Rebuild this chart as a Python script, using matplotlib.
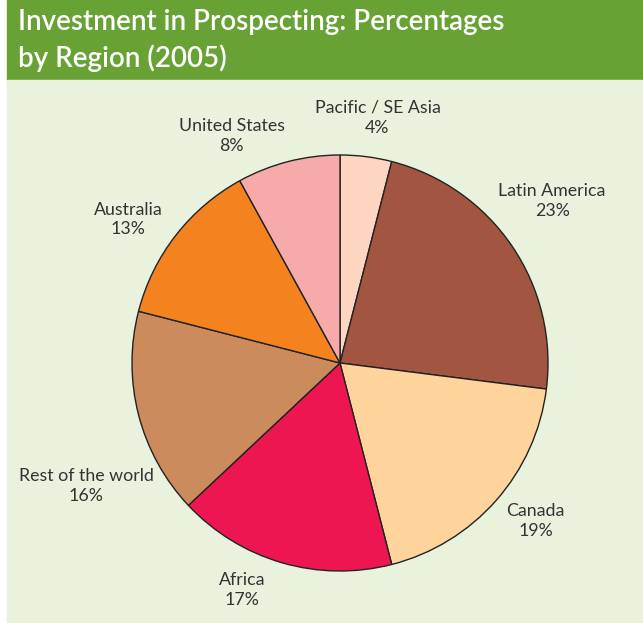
"""Investment in prospecting by region (2005) - pie chart."""
import matplotlib
matplotlib.use("Agg")
import matplotlib.pyplot as plt
from matplotlib.patches import Rectangle

# data
regions = ["Pacific / SE Asia", "Latin America", "Canada", "Africa",
           "Rest of the world", "Australia", "United States"]
shares = [4, 23, 19, 17, 16, 13, 8]

colors = ["#FDD5C1", "#A25642", "#FFD49C", "#ED1651",
          "#CC8B5C", "#F4821F", "#F7AAAA"]

# label positions, in pie radii relative to the centre
label_pos = [(0.18, 1.18), (1.02, 0.78), (0.94, -0.76), (-0.47, -1.09),
             (-1.22, -0.59), (-1.02, 0.69), (-0.52, 1.09)]

W, H = 643, 623
fig = plt.figure(figsize=(W / 100, H / 100), dpi=100)
ax = fig.add_axes([0, 0, 1, 1])

# background: green header + pale panel
header_h = 80
ax.add_patch(Rectangle((7, H - header_h), W - 7, header_h, color="#68A235", zorder=0))
ax.add_patch(Rectangle((7, 0), W - 7, H - header_h, color="#E8F2DD", zorder=0))

ax.text(18, H - 9, "Investment in Prospecting: Percentages\nby Region (2005)",
        color="white", fontsize=20, fontfamily="Lato", fontweight="semibold",
        va="top", ha="left", linespacing=1.4)

cx, cy, R = 340, H - 363, 208
ax.pie(shares, colors=colors, startangle=90, counterclock=False,
       center=(cx, cy), radius=R, frame=True,
       wedgeprops=dict(edgecolor="#222222", linewidth=1.0))
ax.set_xlim(0, W)
ax.set_ylim(0, H)
ax.set_aspect("equal")
ax.axis("off")

for name, val, (dx, dy) in zip(regions, shares, label_pos):
    ax.text(cx + dx * R, cy + dy * R, f"{name}\n{val}%", ha="center", va="center",
            fontsize=12.8, fontfamily="Lato", color="#333333", linespacing=1.3)

fig.savefig("out.png", dpi=100)
